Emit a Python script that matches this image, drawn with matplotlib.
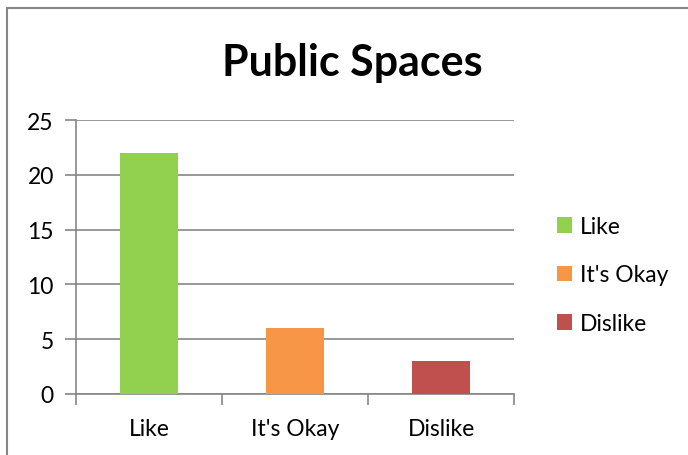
import matplotlib
matplotlib.use("Agg")
import matplotlib.pyplot as plt
from matplotlib.patches import Rectangle, Patch

categories = ["Like", "It's Okay", "Dislike"]
values = [22, 6, 3]
colors = ["#92D050", "#F79646", "#C0504D"]
yticks = [0, 5, 10, 15, 20, 25]

plt.rcParams['font.family'] = ['Lato', 'DejaVu Sans']

fig = plt.figure(figsize=(6.88, 4.56), dpi=100)
ax = fig.add_axes([76/688, 1-395/456, (514-76)/688, (395-121)/456])

x = list(range(len(categories)))
ax.bar(x, values, width=0.4, color=colors, zorder=3)
ax.set_xlim(-0.5, 2.5)
ax.set_ylim(0, 25)
ax.set_yticks(yticks)
ax.set_yticklabels([str(t) for t in yticks], fontsize=16.5)
ax.set_xticks(x)
ax.set_xticklabels(categories, fontsize=16.5)
ax.set_xticks([-0.5, 0.5, 1.5, 2.5], minor=True)
ax.tick_params(axis='x', which='major', length=0, pad=17)
ax.tick_params(axis='x', which='minor', length=8, color='#868686', width=1.2)
ax.tick_params(axis='y', length=8, color='#868686', width=1.2, pad=8)
ax.grid(axis='y', color='#868686', linewidth=1.2, zorder=0)
for s in ['top', 'right']:
    ax.spines[s].set_visible(False)
for s in ['left', 'bottom']:
    ax.spines[s].set_color('#868686')
    ax.spines[s].set_linewidth(1.2)

fig.text((219+486)/2/688, 1-63/456, "Public Spaces", ha='center', va='center',
         fontsize=31, fontweight='bold')

handles = [Patch(facecolor=c, label=l) for c, l in zip(colors, categories)]
fig.legend(handles=handles, loc='center left', bbox_to_anchor=(536/688, 1-276/456),
           frameon=False, fontsize=16.5, handlelength=0.65, handleheight=0.65,
           labelspacing=1.2, handletextpad=0.35)

fig.patches.append(Rectangle((7/688, -0.1), 1.0, 1-9/456+0.1, transform=fig.transFigure,
                             fill=False, edgecolor='#868686', linewidth=1.5))

fig.savefig("out.png", dpi=100)
